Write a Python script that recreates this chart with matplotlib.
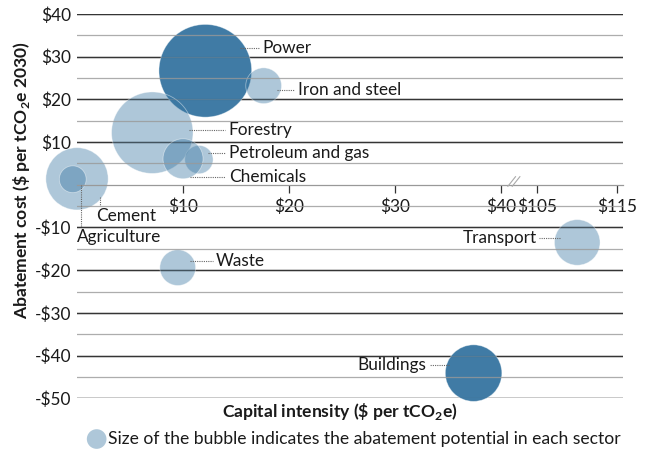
import numpy as np
import matplotlib.pyplot as plt
from matplotlib import transforms

plt.rcParams['font.family'] = ['Lato', 'DejaVu Sans']
plt.rcParams['mathtext.fontset'] = 'custom'
plt.rcParams['mathtext.rm'] = 'Lato:bold'
plt.rcParams['mathtext.bf'] = 'Lato:bold'

# Data
sectors = ["Power", "Iron and steel", "Forestry", "Petroleum and gas", "Chemicals",
           "Cement", "Agriculture", "Waste", "Transport", "Buildings"]
capital = [12.1, 17.6, 7.1, 11.5, 10.0, 0.0, -0.4, 9.5, 110.0, 37.4]   # $ per tCO2e
cost = [26.7, 23.2, 12.2, 5.9, 6.1, 1.4, 1.3, -19.4, -13.5, -44.1]     # $ per tCO2e 2030
potential = [21.5, 3.2, 16.6, 2.0, 4.0, 9.7, 1.8, 3.2, 5.2, 8.0]      # relative bubble area

xticks = [10, 20, 30, 40, 105, 115]
yticks = [40, 30, 20, 10, -10, -20, -30, -40, -50]

dark = {"Power", "Buildings"}
base = np.array([53, 116, 160]) / 255

# label text position (x, y), leader start (x0, y0), alignment
label_layout = {
    "Power": (17.5, 32.1, 15.4, 32.1, 'left'),
    "Iron and steel": (20.8, 22.2, 18.9, 22.2, 'left'),
    "Forestry": (14.3, 12.9, 10.6, 12.9, 'left'),
    "Petroleum and gas": (14.3, 7.5, 12.4, 7.5, 'left'),
    "Chemicals": (14.3, 1.9, 10.7, 1.9, 'left'),
    "Cement": (1.8, -7.3, 2.2, -2.8, 'left'),
    "Agriculture": (0.0, -12.3, 0.38, 0.0, 'left'),
    "Waste": (13.1, -17.9, 10.7, -17.9, 'left'),
    "Transport": (104.9, -12.5, 107.9, -12.5, 'right'),
    "Buildings": (32.9, -42.2, 35.1, -42.2, 'right'),
}

# broken x axis: $0-$41.4 then $102.35 onwards (compressed)
BRK_L, BRK_R, K = 41.4, 102.35, 0.755


def fwd(x):
    x = np.asarray(x, dtype=float)
    return np.where(x <= BRK_L, x, np.where(x >= BRK_R, BRK_L + (x - BRK_R) * K, BRK_L))


def inv(u):
    u = np.asarray(u, dtype=float)
    return np.where(u <= BRK_L, u, BRK_R + (u - BRK_L) / K)


fig = plt.figure(figsize=(6.46, 4.5), dpi=100)
ax = fig.add_axes([0.1192, 0.1149, 0.845, 0.854])
ax.set_xscale('function', functions=(fwd, inv))
ax.set_xlim(0, 115.7)
ax.set_ylim(-50, 40)

# gridlines: black at tens (under bubbles), grey at fives (over bubbles)
for y in range(-50, 41, 5):
    if y % 10 == 0 and y != 0:
        ax.axhline(y, color='black', lw=1.0, zorder=1)
        ax.axhline(y, color='#999999', lw=0.9, alpha=0.35, zorder=3)
    elif y != 0:
        ax.axhline(y, color='#999999', lw=0.9, alpha=0.8, zorder=3)

sizes = np.array(potential) * 207.4
colors = [(*base, 0.95) if s in dark else (*base, 0.4) for s in sectors]
ax.scatter(capital, cost, s=sizes, c=colors, edgecolors=(1, 1, 1, 0.45),
           linewidths=0.6, zorder=2, clip_on=False)

# labels with dotted leaders
for name in sectors:
    tx, ty, lx, ly, ha = label_layout[name]
    if name in ("Cement", "Agriculture"):
        ax.plot([lx, lx], [ly, ty + 2.5], color='#666666', lw=0.8, ls=(0, (1, 1)),
                zorder=4, clip_on=False)
    else:
        gap = 0.3 if ha == 'left' else -0.3
        ax.plot([lx, tx - gap], [ly, ty], color='#666666', lw=0.8, ls=(0, (1, 1)),
                zorder=4)
    ax.text(tx, ty, name, ha=ha, va='center', fontsize=12.4, color='#1a1a1a', zorder=5)

# x axis on the zero line
for side in ('top', 'right', 'left'):
    ax.spines[side].set_visible(False)
ax.spines['bottom'].set_position(('data', 0))
ax.spines['bottom'].set_color('#999999')
ax.spines['bottom'].set_linewidth(0.9)
ax.spines['bottom'].set_zorder(3)
ax.set_xticks(xticks)
ax.set_xticklabels([f"${v}" for v in xticks])
ax.xaxis.set_minor_locator(plt.NullLocator())
ax.tick_params(axis='x', direction='out', length=6, width=0.9, color='#333333',
               pad=4, labelsize=12.4, labelcolor='#1a1a1a')
ax.set_yticks(yticks)
ax.set_yticklabels([f"${v}" if v > 0 else f"-${-v}" for v in yticks])
ax.tick_params(axis='y', length=0, pad=4, labelsize=12.4, labelcolor='#1a1a1a')

# break marks on the x axis
bt = transforms.blended_transform_factory(ax.transAxes, ax.transData)
bx = (fwd(BRK_L) - 0.2) / fwd(115.7)
for dx in (-0.004, 0.004):
    ax.plot([bx + dx - 0.007, bx + dx + 0.007], [-0.35, 1.9], transform=bt,
            color='#aaaaaa', lw=0.8, zorder=4, clip_on=False)

fig.text(0.034, 0.60, r"Abatement cost (\$ per tCO$_2$e 2030)", rotation=90,
         ha='center', va='center', fontsize=12.6, fontweight='bold', color='#1a1a1a')
fig.text(0.526, 0.085, r"Capital intensity (\$ per tCO$_2$e)", ha='center', va='center',
         fontsize=12.6, fontweight='bold', color='#1a1a1a')

# bubble size note
ax.scatter([0.036], [-0.106], s=200, color=(*base, 0.4), transform=ax.transAxes,
           clip_on=False, edgecolors='none')
fig.text(0.167, 0.024, "Size of the bubble indicates the abatement potential in each sector",
         ha='left', va='center', fontsize=12.6, color='#1a1a1a')

fig.savefig("out.png", dpi=100)
